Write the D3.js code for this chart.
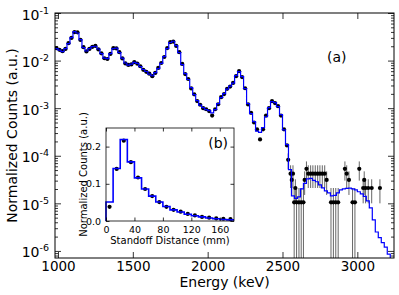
<!DOCTYPE html>
<html>
<head>
<meta charset="utf-8">
<script src="https://cdn.jsdelivr.net/npm/d3@7"></script>
<style>
body { margin: 0; background: #fff; }
svg { display: block; font-family: "DejaVu Sans", sans-serif; }
</style>
</head>
<body>
<svg id="chart" width="399" height="295"></svg>
<script>
// model histogram, 20 keV bins (centres)
var modelEnergy = [990, 1010, 1030, 1050, 1070, 1090, 1110, 1130, 1150, 1170,
                   1190, 1210, 1230, 1250, 1270, 1290, 1310, 1330, 1350, 1370,
                   1390, 1410, 1430, 1450, 1470, 1490, 1510, 1530, 1550, 1570,
                   1590, 1610, 1630, 1650, 1670, 1690, 1710, 1730, 1750, 1770,
                   1790, 1810, 1830, 1850, 1870, 1890, 1910, 1930, 1950, 1970,
                   1990, 2010, 2030, 2050, 2070, 2090, 2110, 2130, 2150, 2170,
                   2190, 2210, 2230, 2250, 2270, 2290, 2310, 2330, 2350, 2370,
                   2390, 2410, 2430, 2450, 2470, 2490, 2510, 2530, 2550, 2570,
                   2590, 2610, 2630, 2650, 2670, 2690, 2710, 2730, 2750, 2770,
                   2790, 2810, 2830, 2850, 2870, 2890, 2910, 2930, 2950, 2970,
                   2990, 3010, 3030, 3050, 3070, 3090, 3110, 3130, 3150, 3170,
                   3190, 3210, 3230];
var modelCounts = [0.0179, 0.0166, 0.0155, 0.0179, 0.0228, 0.0305, 0.0405, 0.0380, 0.0277, 0.0188,
                   0.0159, 0.0179, 0.0197, 0.0200, 0.0175, 0.0140, 0.0113, 0.0110, 0.0140, 0.0179,
                   0.0183, 0.0147, 0.0113, 0.0089, 0.0080, 0.0084, 0.0092, 0.0087, 0.0075, 0.0065,
                   0.0059, 0.0052, 0.0048, 0.0056, 0.0068, 0.0087, 0.0121, 0.0179, 0.0240, 0.0255,
                   0.0207, 0.0147, 0.0082, 0.0053, 0.0040, 0.0027, 0.00192, 0.00144, 0.00116, 0.00103,
                   0.00093, 0.00089, 0.00080, 0.00093, 0.00124, 0.00166, 0.00202, 0.00251, 0.00290, 0.00336,
                   0.00483, 0.00587, 0.00460, 0.00257, 0.00124, 0.00077, 0.00052, 0.00033, 0.00031, 0.00039,
                   0.00066, 0.00103, 0.00137, 0.00131, 0.00108, 0.00073, 0.00035, 0.000171, 0.000051, 0.0000144,
                   0.0000127, 0.0000137, 0.0000202, 0.0000264, 0.0000328, 0.0000336, 0.0000305, 0.0000284, 0.0000245, 0.0000212,
                   0.0000183, 0.0000166, 0.0000144, 0.0000147, 0.0000166, 0.0000192, 0.0000202, 0.0000207, 0.0000208, 0.0000202,
                   0.0000192, 0.0000175, 0.0000158, 0.0000140, 0.0000113, 0.0000080, 0.0000045, 0.0000025, 0.0000019, 0.0000015,
                   0.0000012, 0.00000086, 0.00000059];

// measured points (high statistics part)
var dataEnergy = [990, 1010, 1030, 1050, 1070, 1090, 1110, 1130, 1150, 1170,
                  1190, 1210, 1230, 1250, 1270, 1290, 1310, 1330, 1350, 1370,
                  1390, 1410, 1430, 1450, 1470, 1490, 1510, 1530, 1550, 1570,
                  1590, 1610, 1630, 1650, 1670, 1690, 1710, 1730, 1750, 1770,
                  1790, 1810, 1830, 1850, 1870, 1890, 1910, 1930, 1950, 1970,
                  1990, 2010, 2030, 2050, 2070, 2090, 2110, 2130, 2150, 2170,
                  2190, 2210, 2230, 2250, 2270, 2290, 2310, 2330, 2350, 2370,
                  2390, 2410, 2430, 2450, 2470, 2490, 2510, 2530];
var dataCounts = [0.0183, 0.0168, 0.0158, 0.0176, 0.0232, 0.0300, 0.0395, 0.0392, 0.0272, 0.0191,
                  0.0156, 0.0176, 0.0195, 0.0203, 0.0172, 0.0142, 0.0112, 0.0108, 0.0138, 0.0182,
                  0.0180, 0.0150, 0.0111, 0.0087, 0.0081, 0.0083, 0.0093, 0.0086, 0.0076, 0.0064,
                  0.0058, 0.0053, 0.0047, 0.0055, 0.0070, 0.0089, 0.0119, 0.0183, 0.0244, 0.0250,
                  0.0203, 0.0150, 0.0085, 0.0052, 0.0041, 0.0026, 0.00195, 0.00141, 0.00118, 0.00100,
                  0.00095, 0.00087, 0.00070, 0.00095, 0.00121, 0.00170, 0.00198, 0.00255, 0.00285, 0.00340,
                  0.00470, 0.00600, 0.00450, 0.00262, 0.00120, 0.00080, 0.00050, 0.00036, 0.00022, 0.00036,
                  0.00070, 0.00100, 0.00140, 0.00128, 0.00110, 0.00070, 0.00036, 0.000165];

// measured points (low statistics tail) with errors
var tailEnergy = [2538, 2554, 2562, 2570, 2578, 2586, 2594, 2610, 2625, 2640,
                  2648, 2660, 2672, 2688, 2703, 2719, 2735, 2750, 2766, 2782,
                  2795, 2824, 2840, 2856, 2872, 2917, 2929, 2944, 2968, 2984,
                  3013, 3039, 3046, 3055, 3073, 3096, 3151];
var tailCounts = [8.2e-5, 4.2e-5, 3.1e-5, 4.2e-5, 1.05e-5, 2.1e-5, 1.05e-5, 1.05e-5, 1.05e-5, 1.05e-5,
                  3.1e-5, 5.3e-5, 4.2e-5, 4.2e-5, 4.2e-5, 4.2e-5, 4.2e-5, 4.2e-5, 4.2e-5, 4.2e-5,
                  3.1e-5, 1.05e-5, 1.05e-5, 1.05e-5, 1.05e-5, 5.3e-5, 4.2e-5, 3.1e-5, 1.05e-5, 1.05e-5,
                  5.3e-5, 2.1e-5, 3.1e-5, 2.1e-5, 2.1e-5, 2.1e-5, 2.1e-5];
var tailErr = [3.0e-5, 2.1e-5, 1.6e-5, 2.1e-5, 1.05e-5, 1.1e-5, 1.05e-5, 1.05e-5, 1.05e-5, 1.05e-5,
               1.6e-5, 2.3e-5, 2.1e-5, 2.1e-5, 2.1e-5, 2.1e-5, 2.1e-5, 2.1e-5, 2.1e-5, 2.1e-5,
               1.6e-5, 1.05e-5, 1.05e-5, 1.05e-5, 1.05e-5, 2.3e-5, 2.1e-5, 1.6e-5, 1.05e-5, 1.05e-5,
               2.3e-5, 1.1e-5, 1.6e-5, 1.1e-5, 1.1e-5, 1.1e-5, 1.1e-5];

var xTicks = [1000, 1500, 2000, 2500, 3000];
var yTickExp = [-1, -2, -3, -4, -5, -6];

// inset: standoff distance histogram, 10 mm bins (centres)
var insetDistance = [5, 15, 25, 35, 45, 55, 65, 75, 85, 95, 105, 115, 125, 135, 145, 155, 165, 175];
var insetModel = [0.051, 0.141, 0.219, 0.159, 0.116, 0.086, 0.067, 0.051, 0.039, 0.030,
                  0.024, 0.018, 0.014, 0.011, 0.008, 0.006, 0.004, 0.003];
var insetData = [0.038, 0.140, 0.216, 0.158, 0.117, 0.086, 0.067, 0.051, 0.038, 0.030,
                 0.025, 0.019, 0.015, 0.011, 0.009, 0.007, 0.006, 0.005];
var insetXTicks = [0, 40, 80, 120, 160];
var insetYTicks = [0.0, 0.1, 0.2];

var svg = d3.select("#chart");

var plotLeft = 55, plotRight = 394, plotTop = 13, plotBottom = 258;

var x = d3.scaleLinear().domain([980, 3245]).range([plotLeft, plotRight]);
var y = d3.scaleLog().domain([7.1e-7, 0.1]).range([plotBottom, plotTop]);

svg.append("clipPath").attr("id", "mainClip")
    .append("rect").attr("x", plotLeft).attr("y", plotTop)
    .attr("width", plotRight - plotLeft).attr("height", plotBottom - plotTop);

var plot = svg.append("g").attr("clip-path", "url(#mainClip)");

// tail error bars (go down to the axis when the lower edge is zero)
plot.selectAll("line.err")
    .data(tailEnergy)
    .enter().append("line")
    .attr("class", "err")
    .attr("x1", function(d) { return x(d); })
    .attr("x2", function(d) { return x(d); })
    .attr("y1", function(d, i) {
        var lo = tailCounts[i] - tailErr[i];
        return lo > 0 ? y(lo) : plotBottom + 2; })
    .attr("y2", function(d, i) { return y(tailCounts[i] + tailErr[i]); })
    .style("stroke", "#555")
    .style("stroke-width", 0.9);

plot.selectAll("circle.main")
    .data(dataEnergy)
    .enter().append("circle")
    .attr("class", "main")
    .attr("cx", function(d) { return x(d); })
    .attr("cy", function(d, i) { return y(dataCounts[i]); })
    .attr("r", 2.1)
    .style("fill", "#000");

plot.selectAll("circle.tail")
    .data(tailEnergy)
    .enter().append("circle")
    .attr("class", "tail")
    .attr("cx", function(d) { return x(d); })
    .attr("cy", function(d, i) { return y(tailCounts[i]); })
    .attr("r", 2.1)
    .style("fill", "#000");

// model as a step line over the bin edges
var modelSteps = modelEnergy.map(function(e, i) { return [e - 10, modelCounts[i]]; });
modelSteps.push([modelEnergy[modelEnergy.length - 1] + 10, modelCounts[modelCounts.length - 1]]);

var stepLine = d3.line()
    .x(function(d) { return x(d[0]); })
    .y(function(d) { return y(d[1]); })
    .curve(d3.curveStepAfter);

plot.append("path")
    .datum(modelSteps)
    .attr("d", stepLine)
    .style("fill", "none")
    .style("stroke", "#0000ff")
    .style("stroke-width", 1.2);

// axes, ticks inward on all four sides
function styleAxis(g, size) {
    g.select(".domain").remove();
    g.selectAll("line").style("stroke", "#000").style("stroke-width", 0.8);
    g.selectAll("text").attr("font-family", "DejaVu Sans").attr("font-size", size).style("fill", "#000");
}

var yMinor = y.ticks().filter(function(v) {
    var l = Math.log10(v); return Math.abs(l - Math.round(l)) > 1e-6; });
var yMajor = yTickExp.map(function(e) { return Math.pow(10, e); });

svg.append("g").attr("transform", "translate(0," + plotBottom + ")")
    .call(d3.axisBottom(x).tickValues(xTicks).tickSizeInner(-6).tickSizeOuter(0).tickPadding(3.5).tickFormat(d3.format("d")))
    .call(styleAxis, 13.5);
svg.append("g").attr("transform", "translate(0," + plotTop + ")")
    .call(d3.axisTop(x).tickValues(xTicks).tickSizeInner(-6).tickSizeOuter(0).tickFormat(""))
    .call(styleAxis, 14);
svg.append("g").attr("transform", "translate(" + plotLeft + ",0)")
    .call(d3.axisLeft(y).tickValues(yMajor).tickSizeInner(-6).tickSizeOuter(0).tickFormat(""))
    .call(styleAxis, 14);
svg.append("g").attr("transform", "translate(" + plotLeft + ",0)")
    .call(d3.axisLeft(y).tickValues(yMinor).tickSizeInner(-3).tickSizeOuter(0).tickFormat(""))
    .call(styleAxis, 14);
svg.append("g").attr("transform", "translate(" + plotRight + ",0)")
    .call(d3.axisRight(y).tickValues(yMajor).tickSizeInner(-6).tickSizeOuter(0).tickFormat(""))
    .call(styleAxis, 14);
svg.append("g").attr("transform", "translate(" + plotRight + ",0)")
    .call(d3.axisRight(y).tickValues(yMinor).tickSizeInner(-3).tickSizeOuter(0).tickFormat(""))
    .call(styleAxis, 14);

// 10^n labels
var yLab = svg.append("g").selectAll("text")
    .data(yTickExp)
    .enter().append("text")
    .attr("x", 49)
    .attr("y", function(d) { return y(Math.pow(10, d)) + 6.5; })
    .attr("text-anchor", "end")
    .attr("font-size", 14)
    .style("fill", "#000");
yLab.append("tspan").text("10");
yLab.append("tspan").attr("dy", -6).attr("font-size", 9.5).text(function(d) { return String(d); });

svg.append("rect")
    .attr("x", plotLeft).attr("y", plotTop)
    .attr("width", plotRight - plotLeft).attr("height", plotBottom - plotTop)
    .style("fill", "none").style("stroke", "#000").style("stroke-width", 1);

svg.append("text")
    .attr("x", (plotLeft + plotRight) / 2).attr("y", 287)
    .attr("text-anchor", "middle").attr("font-size", 14)
    .text("Energy (keV)");

svg.append("text")
    .attr("transform", "translate(17," + (plotTop + plotBottom) / 2 + ") rotate(-90)")
    .attr("text-anchor", "middle").attr("font-size", 14)
    .text("Normalized Counts (a.u.)");

svg.append("text")
    .attr("x", 327).attr("y", 61.5)
    .attr("font-size", 14)
    .text("(a)");

// ---- inset (b)
var inLeft = 106, inRight = 234, inTop = 128, inBottom = 221;
var ix = d3.scaleLinear().domain([0, 180]).range([inLeft, inRight]);
var iy = d3.scaleLinear().domain([0, 0.25]).range([inBottom, inTop]);

svg.append("rect")
    .attr("x", inLeft).attr("y", inTop)
    .attr("width", inRight - inLeft).attr("height", inBottom - inTop)
    .style("fill", "#fff");

var inset = svg.append("g");

inset.selectAll("circle")
    .data(insetDistance)
    .enter().append("circle")
    .attr("cx", function(d) { return ix(d); })
    .attr("cy", function(d, i) { return iy(insetData[i]); })
    .attr("r", 2.1)
    .style("fill", "#000");

var insetSteps = [[0, 0]];
insetDistance.forEach(function(d, i) { insetSteps.push([d - 5, insetModel[i]]); });
insetSteps.push([180, insetModel[insetModel.length - 1]]);

inset.append("path")
    .datum(insetSteps)
    .attr("d", d3.line()
          .x(function(d) { return ix(d[0]); })
          .y(function(d) { return iy(d[1]); })
          .curve(d3.curveStepAfter))
    .style("fill", "none")
    .style("stroke", "#0000ff")
    .style("stroke-width", 1.6);

svg.append("g").attr("transform", "translate(0," + inBottom + ")")
    .call(d3.axisBottom(ix).tickValues(insetXTicks).tickSizeInner(-3.5).tickSizeOuter(0).tickPadding(5).tickFormat(d3.format("d")))
    .call(styleAxis, 9.5);
svg.append("g").attr("transform", "translate(0," + inTop + ")")
    .call(d3.axisTop(ix).tickValues(insetXTicks).tickSizeInner(-3.5).tickSizeOuter(0).tickFormat(""))
    .call(styleAxis, 9.5);
svg.append("g").attr("transform", "translate(" + inLeft + ",0)")
    .call(d3.axisLeft(iy).tickValues(insetYTicks).tickSizeInner(-3.5).tickSizeOuter(0).tickPadding(5).tickFormat(d3.format(".1f")))
    .call(styleAxis, 9.5);
svg.append("g").attr("transform", "translate(" + inRight + ",0)")
    .call(d3.axisRight(iy).tickValues(insetYTicks).tickSizeInner(-3.5).tickSizeOuter(0).tickFormat(""))
    .call(styleAxis, 9.5);

svg.append("rect")
    .attr("x", inLeft).attr("y", inTop)
    .attr("width", inRight - inLeft).attr("height", inBottom - inTop)
    .style("fill", "none").style("stroke", "#000").style("stroke-width", 0.8);

svg.append("text")
    .attr("x", (inLeft + inRight) / 2).attr("y", 244)
    .attr("text-anchor", "middle").attr("font-size", 10)
    .text("Standoff Distance (mm)");

svg.append("text")
    .attr("transform", "translate(87," + (inTop + inBottom) / 2 + ") rotate(-90)")
    .attr("text-anchor", "middle").attr("font-size", 10)
    .text("Normalized Counts (a.u.)");

svg.append("text")
    .attr("x", 228).attr("y", 148)
    .attr("text-anchor", "end").attr("font-size", 14)
    .text("(b)");
</script>
</body>
</html>
